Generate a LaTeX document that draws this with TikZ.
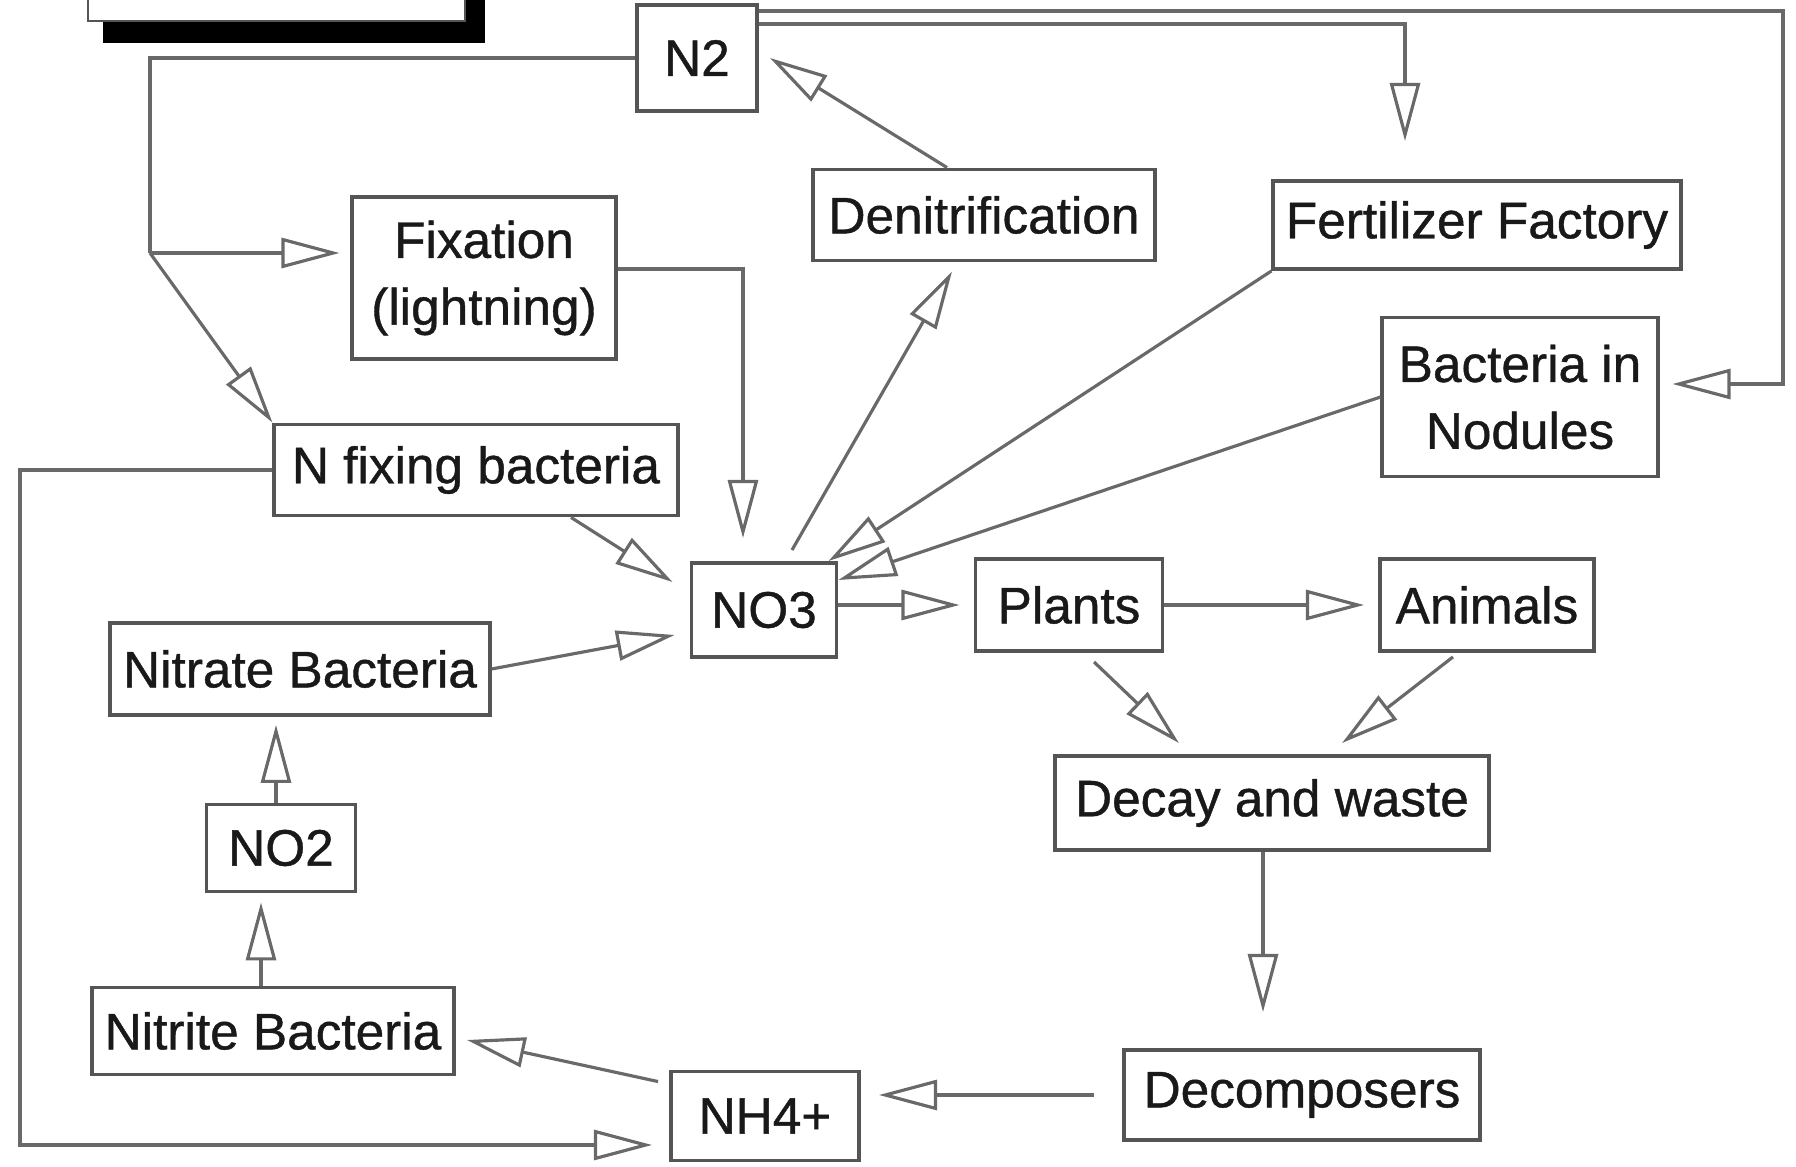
\documentclass[tikz,border=0pt]{standalone}
\usepackage{fontspec}
\newfontfamily\boxfont{Liberation Sans}[FakeBold=0.8]
\usetikzlibrary{arrows.meta}
\definecolor{ncline}{RGB}{105,105,105}
\definecolor{ncedge}{RGB}{85,85,85}
\definecolor{nctext}{RGB}{25,25,25}

\begin{document}
\begin{tikzpicture}[x=0.01cm,y=-0.01cm,line width=0.9pt,
  box/.style={draw=ncedge,line width=1.1pt,fill=white,text=nctext,
    font=\boxfont\fontsize{14.6}{19}\selectfont,align=center,inner sep=0pt},
  ln/.style={draw=ncline},
  arr/.style={draw=ncline,-{Triangle[open,length=0.58cm,width=0.3cm]}}]
  \useasboundingbox (0,0) rectangle (1796,1167);

  \fill[black] (103,-10) rectangle (485,43);
  \filldraw[fill=white,draw=ncedge,line width=0.6pt] (88,-10) rectangle (465,21);

  \node[box,minimum width=1.20cm,minimum height=1.06cm] (n2) at (697,58) {N2};
  \node[box,minimum width=3.42cm,minimum height=0.91cm] (denit) at (984,215) {Denitrification};
  \node[box,minimum width=4.07cm,minimum height=0.88cm] (fert) at (1477,225) {Fertilizer Factory};
  \node[box,minimum width=2.63cm,minimum height=1.62cm] (fix) at (484,278) {Fixation\\(lightning)};
  \node[box,minimum width=2.75cm,minimum height=1.59cm] (nod) at (1520,397) {Bacteria in\\Nodules};
  \node[box,minimum width=4.03cm,minimum height=0.91cm] (nfix) at (476,470) {N fixing bacteria};
  \node[box,minimum width=1.45cm,minimum height=0.94cm] (no3) at (764,610) {NO3};
  \node[box,minimum width=1.87cm,minimum height=0.92cm] (plants) at (1069,605) {Plants};
  \node[box,minimum width=2.14cm,minimum height=0.92cm] (animals) at (1487,605) {Animals};
  \node[box,minimum width=3.79cm,minimum height=0.92cm] (nitrate) at (300,669) {Nitrate Bacteria};
  \node[box,minimum width=4.34cm,minimum height=0.94cm] (decay) at (1272,803) {Decay and waste};
  \node[box,minimum width=1.49cm,minimum height=0.87cm] (no2) at (281,848) {NO2};
  \node[box,minimum width=3.62cm,minimum height=0.87cm] (nitrite) at (273,1031) {Nitrite Bacteria};
  \node[box,minimum width=3.55cm,minimum height=0.90cm] (decomp) at (1302,1095) {Decomposers};
  \node[box,minimum width=1.88cm,minimum height=0.89cm] (nh4) at (765,1116) {NH4+};

  \coordinate (jl) at (150,253);
  \coordinate (rt) at (1783,384);
  \coordinate (lb) at (20,1145);
  \coordinate (xf) at (1405,0);
  \coordinate (xa) at (276,0);
  \coordinate (xb) at (261,0);
  \coordinate (xd) at (1263,0);

  \draw[ln] (n2.west) -| (jl);
  \draw[arr,shorten >=0.11cm] (jl) -- (jl -| fix.west);
  \draw[arr] (jl) -- (nfix.north west);
  \draw[arr,shorten >=0.13cm] ([yshift=-0.08cm]n2.north east) -| (rt) -- (rt -| nod.east);
  \draw[arr,shorten >=0.38cm] ([yshift=-0.21cm]n2.north east) -| (xf |- fert.north);
  \draw[arr] ([xshift=-0.37cm]denit.north) -- ([xshift=0.11cm]n2.east);
  \draw[arr] ([xshift=0.28cm,yshift=0.11cm]no3.north) -- ([xshift=-0.32cm,yshift=-0.09cm]denit.south);
  \draw[arr,shorten >=0.23cm] ([yshift=0.09cm]fix.east) -| ([xshift=-0.21cm]no3.north);
  \draw[arr] ([xshift=0.95cm]nfix.south) -- ([xshift=-0.17cm,yshift=0.28cm]no3.west);
  \draw[arr,shorten >=0.17cm] (nfix.west) -| (lb) -- (lb -| nh4.west);
  \draw[arr] (nitrate.east) -- ([xshift=-0.15cm,yshift=-0.25cm]no3.west);
  \draw[arr,shorten >=0.08cm] (xa |- no2.north) -- (xa |- nitrate.south);
  \draw[arr,shorten >=0.09cm] (xb |- nitrite.north) -- (xb |- no2.south);
  \draw[arr] ([xshift=-0.11cm,yshift=-0.12cm]nh4.north west) -- ([xshift=0.11cm,yshift=-0.09cm]nitrite.east);
  \draw[arr,shorten <=0.28cm,shorten >=0.18cm] (decomp.west) -- (nh4.east |- decomp.west);
  \draw[arr,shorten >=0.36cm] (xd |- decay.south) -- (xd |- decomp.north);
  \draw[arr] ([xshift=0.25cm,yshift=-0.09cm]plants.south) -- ([xshift=-0.93cm,yshift=0.11cm]decay.north);
  \draw[arr] ([xshift=-0.34cm,yshift=-0.04cm]animals.south) -- ([xshift=0.7cm,yshift=0.11cm]decay.north);
  \draw[arr,shorten >=0.14cm] (plants.east) -- (animals.west);
  \draw[arr,shorten >=0.14cm] (no3.east |- plants.west) -- (plants.west);
  \draw[arr] (fert.south west) -- ([xshift=-0.1cm]no3.north east);
  \draw[arr] (nod.west) -- ([yshift=0.3cm]no3.east);
\end{tikzpicture}
\end{document}
